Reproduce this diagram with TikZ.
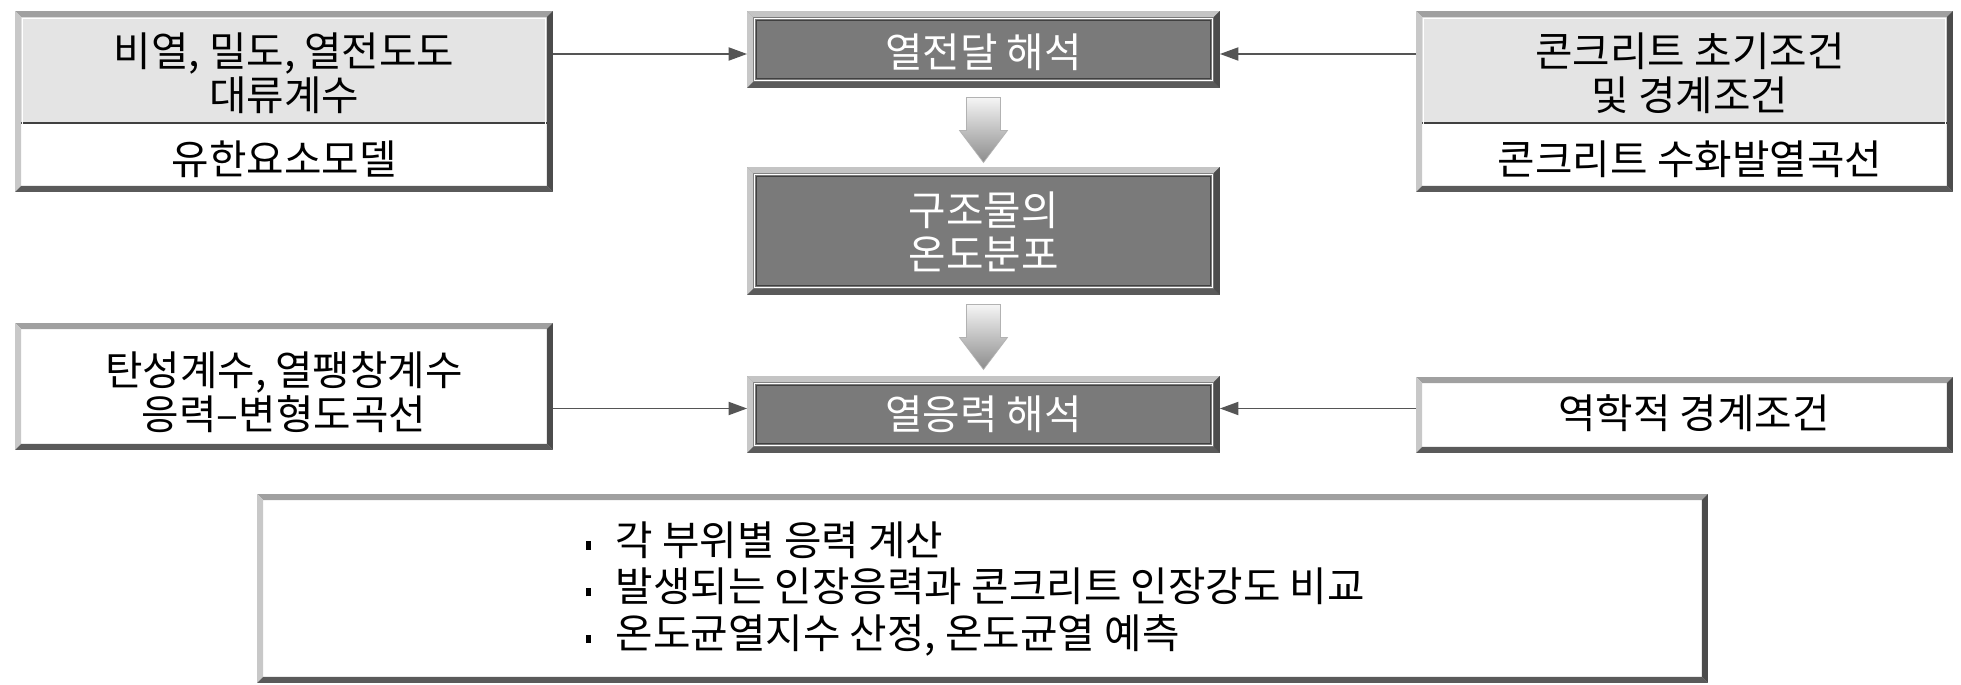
\documentclass[tikz,border=0pt]{standalone}
\usepackage{fontspec}
\setmainfont{Noto Sans CJK KR}
\usetikzlibrary{arrows.meta,calc}
\definecolor{darkfill}{HTML}{7A7A7A}
\definecolor{lightfill}{HTML}{E4E4E4}
\definecolor{topL}{HTML}{A0A0A0}
\definecolor{topD}{HTML}{C4C4C4}
\definecolor{leftL}{HTML}{C8C8C8}
\definecolor{botC}{HTML}{5A5A5A}
\definecolor{rightC}{HTML}{4C4C4C}
\definecolor{connC}{HTML}{555555}
\def\bvw{0.12cm}
\newcommand\bvbox[2]{%
 \fill[#2] (#1.north west) -- (#1.north east) -- ([shift={(-\bvw,-\bvw)}]#1.north east) -- ([shift={(\bvw,-\bvw)}]#1.north west) -- cycle;
 \fill[leftL] (#1.north west) -- (#1.south west) -- ([shift={(\bvw,\bvw)}]#1.south west) -- ([shift={(\bvw,-\bvw)}]#1.north west) -- cycle;
 \fill[botC] (#1.south west) -- (#1.south east) -- ([shift={(-\bvw,\bvw)}]#1.south east) -- ([shift={(\bvw,\bvw)}]#1.south west) -- cycle;
 \fill[rightC] (#1.north east) -- (#1.south east) -- ([shift={(-\bvw,\bvw)}]#1.south east) -- ([shift={(-\bvw,-\bvw)}]#1.north east) -- cycle;
 \draw[white, line width=0.7pt] ([shift={(0.15cm,-0.15cm)}]#1.north west) rectangle ([shift={(-0.15cm,0.15cm)}]#1.south east);
}
\newcommand\darkin[1]{%
 \draw[black!75, line width=0.5pt] ([shift={(0.185cm,-0.185cm)}]#1.north west) rectangle ([shift={(-0.185cm,0.185cm)}]#1.south east);
}
\newcommand\blockarrow[1]{%
 \shade[top color=white!96!black, bottom color=black!45, draw=black!30, line width=0.4pt]
  ([shift={(-0.34cm,-0.19cm)}]#1.south) -- ++(0.68cm,0) -- ++(0,-0.66cm) -- ++(0.14cm,0)
  -- ++(-0.48cm,-0.64cm) -- ++(-0.48cm,0.64cm) -- ++(0.14cm,0) -- cycle;
}
\newcommand\sqb{\raisebox{0.25ex}{\rule{0.09cm}{0.17cm}}\hspace{0.5cm}}
\tikzset{
 boxnode/.style={rectangle, inner sep=0pt, outer sep=0pt, draw=none},
 txt/.style={inner sep=0pt, align=center, font=\fontsize{23.2}{25}\selectfont},
 wtxt/.style={txt, text=white},
 conn/.style={draw=connC, line width=0.8pt, -{Triangle[length=10.5pt,width=7.5pt]}},
}
\begin{document}
\begin{tikzpicture}[x=0.02cm, y=-0.02cm]
\useasboundingbox (0,0) rectangle (1961,685);
\fill[white] (0,0) rectangle (1961,685);
% boxes
\node[boxnode, fill=white, minimum width=10.76cm, minimum height=3.62cm] (A) at (284,101.5) {};
\node[boxnode, fill=darkfill, minimum width=9.46cm, minimum height=1.54cm] (B) at (983.5,49.5) {};
\node[boxnode, fill=white, minimum width=10.74cm, minimum height=3.62cm] (C) at (1684.5,101.5) {};
\node[boxnode, fill=darkfill, minimum width=9.46cm, minimum height=2.56cm] (D) at (983.5,231) {};
\node[boxnode, fill=white, minimum width=10.76cm, minimum height=2.54cm] (E) at (284,386.5) {};
\node[boxnode, fill=darkfill, minimum width=9.46cm, minimum height=1.54cm] (F) at (983.5,414.5) {};
\node[boxnode, fill=white, minimum width=10.74cm, minimum height=1.52cm] (G) at (1684.5,415) {};
\node[boxnode, fill=white, minimum width=29.02cm, minimum height=3.78cm] (H) at (982.5,588.5) {};
% upper grey parts and dividers
\coordinate (Adiv) at (284,123);
\coordinate (Cdiv) at (1684.5,123);
\fill[lightfill] (A.north west) rectangle (A.east |- Adiv);
\fill[lightfill] (C.north west) rectangle (C.east |- Cdiv);
\draw[black!75, line width=0.8pt] (A.west |- Adiv) -- (A.east |- Adiv);
\draw[black!75, line width=0.8pt] (C.west |- Cdiv) -- (C.east |- Cdiv);
% bevels
\bvbox{A}{topL}
\bvbox{C}{topL}
\bvbox{E}{topL}
\bvbox{G}{topL}
\bvbox{H}{topL}
\bvbox{B}{topD}\darkin{B}
\bvbox{D}{topD}\darkin{D}
\bvbox{F}{topD}\darkin{F}
% texts
\node[txt] (Atop) at (284,73) {비열, 밀도, 열전도도\\대류계수};
\node[txt] (Abot) at (284,159) {유한요소모델};
\node[wtxt] (Btxt) at (983.5,52) {열전달 해석};
\node[txt] (Ctop) at (1690,73) {콘크리트 초기조건\\및 경계조건};
\node[txt] (Cbot) at (1690,159) {콘크리트 수화발열곡선};
\node[wtxt] (Dtxt) at (983.5,232) {구조물의\\온도분포};
\node[txt] (Etxt) at (284,392) {탄성계수, 열팽창계수\\응력–변형도곡선};
\node[wtxt] (Ftxt) at (983.5,414) {열응력 해석};
\node[txt] (Gtxt) at (1694,413) {역학적 경계조건};
\node[txt, align=left, anchor=west, font=\fontsize{23.2}{26.5}\selectfont] (Htxt) at (586,589)
 {\sqb 각 부위별 응력 계산\\\sqb 발생되는 인장응력과 콘크리트 인장강도 비교\\\sqb 온도균열지수 산정, 온도균열 예측};
% connectors
\coordinate (Bl) at ([yshift=-0.09cm]B.west);
\coordinate (Br) at ([yshift=-0.09cm]B.east);
\coordinate (Fl) at ([yshift=0.12cm]F.west);
\coordinate (Fr) at ([yshift=0.12cm]F.east);
\draw[conn] (A.east |- Bl) -- (Bl);
\draw[conn] (C.west |- Br) -- (Br);
\draw[conn] (E.east |- Fl) -- (Fl);
\draw[conn] (G.west |- Fr) -- (Fr);
% block arrows
\blockarrow{B}
\blockarrow{D}
\end{tikzpicture}
\end{document}
